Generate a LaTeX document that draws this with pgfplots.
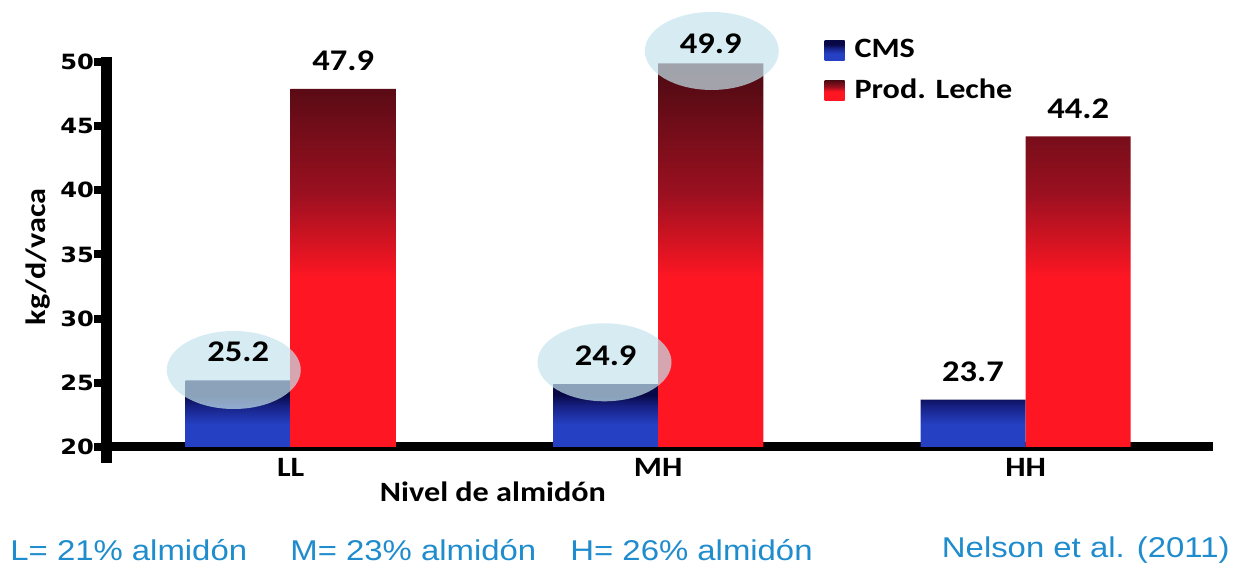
\documentclass[border=0pt]{standalone}
\usepackage{fontspec}
\setmainfont{Carlito}[FakeStretch=1.15]
\newfontfamily\numfont{DejaVu Sans}[FakeStretch=1.15]
\newfontfamily\notefont{Liberation Sans}[FakeStretch=1.15]
\usepackage{pgfplots}
\pgfplotsset{compat=1.18}

\definecolor{cmstop}{RGB}{8,8,70}
\definecolor{cmsmid}{RGB}{22,32,130}
\definecolor{cmsblue}{RGB}{38,64,195}
\definecolor{lechetop}{RGB}{74,10,18}
\definecolor{lechemid}{RGB}{155,16,32}
\definecolor{lechered}{RGB}{255,22,35}
\definecolor{halo}{RGB}{196,228,236}
\definecolor{notes}{RGB}{30,140,205}

% bar gradients (path spans 25bp..75bp)
\pgfdeclareverticalshading{cmsshade}{100bp}{color(0bp)=(cmsblue); color(25bp)=(cmsblue);
  color(42bp)=(cmsblue); color(56bp)=(cmsmid); color(64bp)=(cmstop); color(100bp)=(cmstop)}
\pgfdeclareverticalshading{lecheshade}{100bp}{color(0bp)=(lechered); color(25bp)=(lechered);
  color(47bp)=(lechered); color(58bp)=(lechemid); color(75bp)=(lechetop); color(100bp)=(lechetop)}

% ellipse used to highlight some values
\pgfdeclareplotmark{halo}{%
  \pgfpathellipse{\pgfpointorigin}{\pgfqpoint{33.5pt}{0pt}}{\pgfqpoint{0pt}{19.5pt}}%
  \pgfusepathqfill}

\begin{document}
\begin{tikzpicture}
\useasboundingbox (0,0) rectangle (622pt,283pt);
\begin{axis}[
  at={(53.5pt,59.5pt)}, anchor=south west,
  scale only axis, width=553pt, height=192.5pt,
  xmin=-0.5, xmax=2.51,
  ymin=20, ymax=50,
  clip=false,
  axis x line=bottom, axis y line=left,
  x axis line style={-, line width=4.5pt, shorten <=-3pt},
  y axis line style={-, line width=5.5pt, shorten <=-8pt, shorten >=-2.5pt},
  xtick={0,1,2}, xticklabels={LL,MH,HH},
  xtick style={draw=none},
  xticklabel style={font=\bfseries\fontsize{14}{16}\selectfont, yshift=4.5pt},
  ytick={20,25,...,50},
  tick align=outside,
  ytick style={line width=4pt, black},
  major tick length=6.5pt,
  yticklabel style={font=\numfont\bfseries\fontsize{10.5}{12}\selectfont, xshift=3.5pt},
  /pgf/number format/assume math mode=true,
  xlabel={Nivel de almidón},
  xlabel style={at={(rel axis cs:0.349,-0.117)}, anchor=center,
    font=\bfseries\fontsize{14}{16}\selectfont},
  ylabel={kg/d/vaca},
  ylabel style={at={(rel axis cs:-0.062,0.494)}, anchor=center,
    font=\bfseries\fontsize{14}{16}\selectfont},
  legend style={at={(0.643,1.075)}, anchor=north west, draw=none, fill=none,
    font=\bfseries\fontsize{14}{16}\selectfont, row sep=7pt,
    nodes={inner sep=1pt},
    /tikz/every odd column/.append style={column sep=4pt}},
  legend cell align=left,
  legend image code/.code={\path[#1,draw=none] (0pt,-5pt) rectangle (10pt,5pt);},
]
\addplot[ybar, bar width=0.286, bar shift=-0.143, draw=none,
  shade, shading=cmsshade]
  coordinates {(0,25.2) (1,24.9) (2,23.7)};
\addlegendentry{CMS}
\addplot[ybar, bar width=0.286, bar shift=0.143, draw=none,
  shade, shading=lecheshade]
  coordinates {(0,47.9) (1,49.9) (2,44.2)};
\addlegendentry{Prod. Leche}

% highlighted values
\addplot[only marks, mark=halo, mark options={fill=halo, draw=none, fill opacity=0.7},
  forget plot]
  coordinates {(-0.155,26.0) (0.854,26.6) (1.146,50.86)};

% value labels
\addplot[draw=none, mark=none, forget plot, nodes near coords,
  point meta=explicit symbolic,
  every node near coord/.style={anchor=center, yshift=14pt,
    font=\bfseries\fontsize{15}{17}\selectfont}]
  coordinates {(-0.143,25.2)[25.2] (0.143,47.9)[47.9] (0.857,24.9)[24.9]
    (1.857,23.7)[23.7] (2.143,44.2)[44.2]};
\addplot[draw=none, mark=none, forget plot, nodes near coords,
  point meta=explicit symbolic,
  every node near coord/.style={anchor=center, yshift=10pt,
    font=\bfseries\fontsize{15}{17}\selectfont}]
  coordinates {(1.143,49.9)[49.9]};
\end{axis}

\begin{scope}[every node/.style={text=notes, inner sep=0pt,
    font=\notefont\fontsize{14.3}{16}\selectfont}]
\node[anchor=west] at (5pt,8pt) {L= 21\% almidón};
\node[anchor=west] at (145pt,8pt) {M= 23\% almidón};
\node[anchor=west] at (285pt,8pt) {H= 26\% almidón};
\node[anchor=east] at (615pt,8pt) {Nelson et al. (2011)};
\end{scope}
\end{tikzpicture}
\end{document}
